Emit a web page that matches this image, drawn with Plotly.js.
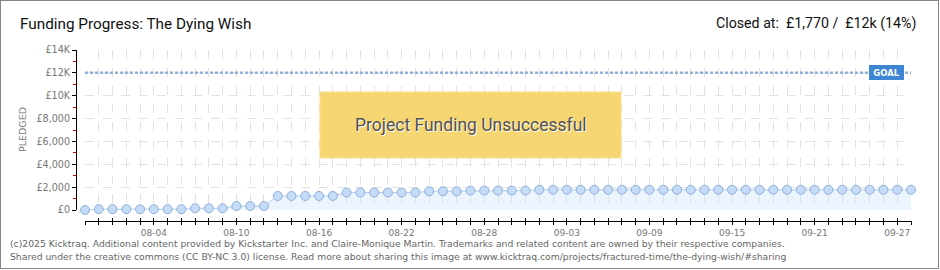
<!DOCTYPE html>
<html>
<head>
<meta charset="utf-8">
<script src="https://cdn.plot.ly/plotly-3.0.1.min.js"></script>
<style>
  html, body { margin: 0; padding: 0; background: #fff; }
  #wrap { position: relative; width: 940px; height: 270px; }
  #chart { position: absolute; left: 0; top: 0; width: 940px; height: 270px; }
  #frame { position: absolute; left: 0; top: 0; width: 939px; height: 269px; box-sizing: border-box; border: 1px solid #858585; pointer-events: none; }
</style>
</head>
<body>
<div id="wrap"><div id="chart"></div><div id="frame"></div></div>
<script>
// ---- data ----
const dates = [
  '07-30','07-31','08-01','08-02','08-03','08-04','08-05','08-06','08-07','08-08',
  '08-09','08-10','08-11','08-12','08-13','08-14','08-15','08-16','08-17','08-18',
  '08-19','08-20','08-21','08-22','08-23','08-24','08-25','08-26','08-27','08-28',
  '08-29','08-30','08-31','09-01','09-02','09-03','09-04','09-05','09-06','09-07',
  '09-08','09-09','09-10','09-11','09-12','09-13','09-14','09-15','09-16','09-17',
  '09-18','09-19','09-20','09-21','09-22','09-23','09-24','09-25','09-26','09-27',
  '09-28'
];
const pledged = [
  0, 70, 70, 70, 70, 70, 70, 70, 150, 150,
  150, 345, 345, 345, 1230, 1230, 1230, 1230, 1230, 1530,
  1530, 1530, 1530, 1530, 1530, 1640, 1640, 1640, 1700, 1700,
  1700, 1700, 1700, 1770, 1770, 1770, 1770, 1770, 1770, 1770,
  1770, 1770, 1770, 1770, 1770, 1770, 1770, 1770, 1770, 1770,
  1770, 1770, 1770, 1770, 1770, 1770, 1770, 1770, 1770, 1770,
  1770
];
const labeledDates = ['08-04','08-10','08-16','08-22','08-28','09-03','09-09','09-15','09-21','09-27'];
const goal = 12000;
const yTickVals = [0, 2000, 4000, 6000, 8000, 10000, 12000, 14000];
const yTickText = ['£0', '£2,000', '£4,000', '£6,000', '£8,000', '£10K', '£12K', '£14K'];
const yMinorVals = [1000, 3000, 5000, 7000, 9000, 11000, 13000];
const titleText = 'Funding Progress: The Dying Wish';
const closedText = 'Closed at:  £1,770 /  £12k (14%)';
const statusText = 'Project Funding Unsuccessful';
const footer1 = '(c)2025 Kicktraq. Additional content provided by Kickstarter Inc. and Claire-Monique Martin. Trademarks and related content are owned by their respective companies.';
const footer2 = 'Shared under the creative commons (CC BY-NC 3.0) license. Read more about sharing this image at www.kicktraq.com/projects/fractured-time/the-dying-wish/#sharing';

// ---- geometry helpers (pixels -> paper) ----
const W = 940, H = 270, ML = 76, MR = 28, MT = 50, MB = 49;
const PW = W - ML - MR, PH = H - MT - MB;
const px = x => (x - ML) / PW;
const py = y => (H - MB - y) / PH;

const tickText = dates.map(d => labeledDates.includes(d) ? d : '');
const n = dates.length;
const xr = [0, (n - 1) + 1 / 13.77];

const titleFont = 'Roboto, sans-serif';

const traces = [
  {
    x: dates, y: pledged, type: 'scatter', mode: 'lines+markers',
    fill: 'tozeroy', fillcolor: 'rgba(205,226,250,0.38)',
    line: {color: '#b0cdef', width: 1},
    marker: {size: 9, color: '#c5dcf8', line: {color: '#90aed6', width: 1}},
    cliponaxis: false, hoverinfo: 'x+y', showlegend: false
  },
  { x: [], y: [], xaxis: 'x2', yaxis: 'y', type: 'scatter', mode: 'markers', hoverinfo: 'skip', showlegend: false }
];

const layout = {
  width: W, height: H,
  margin: {l: ML, r: MR, t: MT, b: MB, pad: 0},
  paper_bgcolor: '#ffffff', plot_bgcolor: '#ffffff',
  showlegend: false,
  title: {
    text: titleText, x: 20 / W, xref: 'container', xanchor: 'left',
    y: 1 - 24 / H, yref: 'container', yanchor: 'middle',
    font: {family: titleFont, size: 15.3, color: '#111111'}
  },
  xaxis: {
    type: 'category', domain: [9 / PW, 1], range: xr, anchor: 'free', position: 0,
    tickmode: 'array', tickvals: dates, ticktext: tickText,
    ticks: 'outside', ticklen: 3, tickwidth: 1, tickcolor: '#000',
    showline: true, linecolor: '#000', linewidth: 1,
    showgrid: true, gridcolor: '#e2e2e2', griddash: 'dash', gridwidth: 1,
    zeroline: false, tickangle: 0,
    tickfont: {family: 'DejaVu Sans, sans-serif', size: 9, color: '#777'},
    fixedrange: true
  },
  xaxis2: {
    overlaying: 'x', anchor: 'free', position: 0, type: 'linear', range: xr,
    tickmode: 'linear', tick0: 0, dtick: 1,
    ticks: 'inside', ticklen: 3, tickwidth: 1, tickcolor: '#000',
    showticklabels: false, showgrid: false, showline: false, zeroline: false,
    fixedrange: true
  },
  yaxis: {
    domain: [(H - MB - 210) / PH, 1], range: [0, 14000], anchor: 'free', position: 0,
    tickmode: 'array', tickvals: yTickVals, ticktext: yTickText,
    ticks: 'outside', ticklen: 4, tickwidth: 1, tickcolor: '#000',
    showline: true, linecolor: '#000', linewidth: 1,
    showgrid: true, gridcolor: '#e2e2e2', griddash: 'dash', gridwidth: 1,
    zeroline: false,
    minor: {tickmode: 'array', tickvals: yMinorVals, ticks: 'outside', ticklen: 3, tickwidth: 1, tickcolor: '#e00000', showgrid: false},
    tickfont: {family: 'DejaVu Sans, sans-serif', size: 9.6, color: '#777'},
    fixedrange: true
  },
  shapes: [
    { type: 'line', xref: 'x', yref: 'y', x0: dates[0], x1: dates[n - 1], y0: goal, y1: goal,
      line: {color: '#8fb2de', width: 2.5, dash: '3px,2px'} },
    { type: 'rect', xref: 'paper', yref: 'paper', x0: px(320), x1: px(621), y0: py(158), y1: py(92),
      fillcolor: 'rgba(246,212,108,0.95)', line: {color: '#fbe08a', width: 1}, layer: 'above' }
  ],
  annotations: [
    { xref: 'paper', yref: 'paper', x: px(918), y: py(24), xanchor: 'right', yanchor: 'middle',
      text: closedText, showarrow: false, font: {family: titleFont, size: 14.2, color: '#111111'} },
    { xref: 'paper', yref: 'paper', x: px(470.5), y: py(125), xanchor: 'center', yanchor: 'middle',
      text: statusText, showarrow: false,
      font: {family: titleFont, size: 17.5, color: '#505050', shadow: '1px 1px 0 #ffffff'} },
    { xref: 'x', yref: 'y', x: dates[n - 1], y: goal, xanchor: 'right', yanchor: 'middle', xshift: -7,
      text: '<b>GOAL</b>', showarrow: false, bgcolor: '#3c86d3', borderpad: 1, bordercolor: '#3c86d3', borderwidth: 1,
      width: 31, height: 11,
      font: {family: 'DejaVu Sans, sans-serif', size: 8.5, color: '#ffffff'} },
    { xref: 'paper', yref: 'paper', x: px(22), y: py(130), xanchor: 'center', yanchor: 'middle',
      text: 'PLEDGED', textangle: -90, showarrow: false,
      font: {family: 'DejaVu Sans, sans-serif', size: 9.5, color: '#777'} },
    { xref: 'paper', yref: 'paper', x: px(8), y: py(243), xanchor: 'left', yanchor: 'middle',
      text: footer1, showarrow: false, font: {family: 'DejaVu Sans, sans-serif', size: 9.25, color: '#666'} },
    { xref: 'paper', yref: 'paper', x: px(8), y: py(256), xanchor: 'left', yanchor: 'middle',
      text: footer2, showarrow: false, font: {family: 'DejaVu Sans, sans-serif', size: 9.25, color: '#666'} }
  ]
};

Plotly.newPlot('chart', traces, layout, {displayModeBar: false, staticPlot: true});
</script>
</body>
</html>
